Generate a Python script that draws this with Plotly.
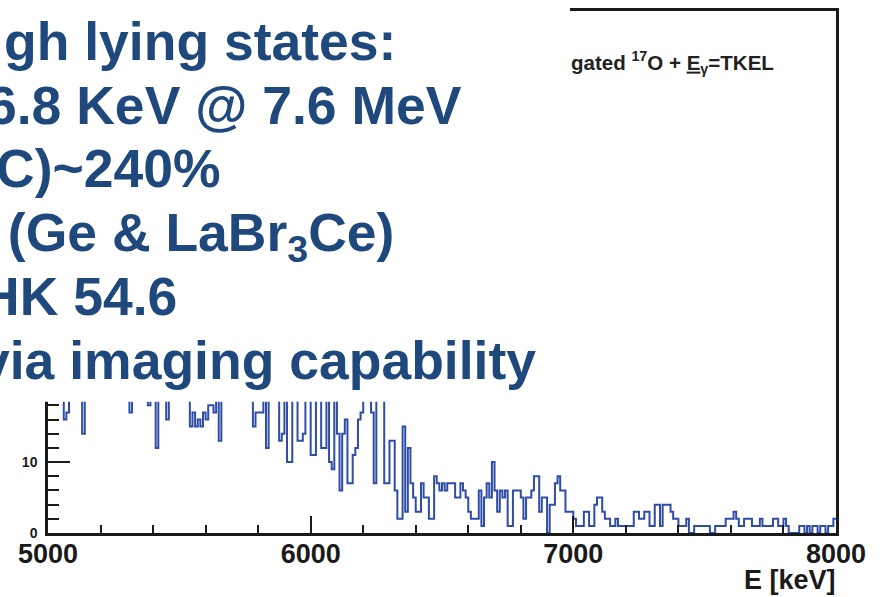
import numpy as np
import plotly.graph_objects as go

# Gamma-ray energy spectrum, 10 keV bins from 5000 to 8000 keV
E_MIN = 5000
E_MAX = 8000
BIN_WIDTH = 10

counts = [
    19, 19, 24, 31, 27, 22, 16, 17, 23, 29,
    34, 27, 21, 14, 25, 30, 36, 28, 33, 26,
    31, 38, 29, 35, 27, 32, 40, 34, 30, 37,
    29, 17, 26, 33, 41, 36, 30, 25, 18, 27,
    33, 12, 28, 35, 22, 16, 24, 31, 27, 36,
    30, 26, 22, 20, 15, 17, 15, 16, 15, 17,
    16, 18, 18, 17, 22, 13, 24, 29, 35, 31,
    38, 33, 27, 36, 30, 25, 21, 19, 15, 17,
    17, 17, 23, 12, 20, 26, 31, 22, 13, 14,
    21, 10, 10, 19, 24, 13, 13, 14, 22, 25,
    11, 11, 21, 19, 12, 12, 20, 10, 9, 24,
    14, 6, 14, 16, 7, 7, 11, 12, 16, 17,
    22, 26, 21, 17, 7, 28, 24, 20, 7, 7,
    13, 13, 6, 2, 2, 15, 3, 12, 7, 5,
    3, 3, 7, 5, 5, 2, 2, 8, 7, 6,
    7, 6, 7, 7, 7, 5, 5, 7, 6, 5,
    3, 2, 2, 2, 6, 1, 5, 7, 5, 10,
    6, 3, 6, 5, 6, 1, 1, 6, 6, 6,
    5, 2, 5, 5, 6, 8, 8, 3, 5, 5,
    0, 4, 4, 7, 8, 6, 6, 3, 3, 3,
    2, 1, 1, 1, 3, 3, 1, 1, 4, 5,
    5, 3, 2, 2, 1, 1, 2, 1, 1, 1,
    1, 1, 1, 3, 3, 2, 2, 3, 3, 1,
    1, 4, 4, 1, 4, 4, 4, 3, 2, 2,
    1, 1, 1, 2, 0, 0, 1, 1, 1, 1,
    1, 1, 0, 0, 1, 1, 1, 1, 2, 2,
    2, 3, 2, 1, 1, 2, 2, 2, 1, 1,
    1, 2, 1, 1, 1, 1, 2, 2, 1, 1,
    2, 1, 0, 0, 0, 0, 1, 1, 0, 1,
    0, 1, 1, 0, 1, 1, 0, 1, 1, 2,
]

Y_MAX = 73.6
x_ticks = [5000, 6000, 7000, 8000]
y_ticks = [0, 10, 20, 30, 40, 50, 60, 70]

hist_title = "gated <sup>17</sup>O + <u>E</u><sub>γ</sub>=TKEL"
x_title = "E [keV]"

slide_lines = [
    "gh lying states:",
    "6.8 KeV @ 7.6 MeV",
    "C)~240%",
    " (Ge &amp; LaBr<sub>3</sub>Ce)",
    "HK 54.6",
    "via imaging capability",
]
# right end (px) and baseline (px) of each slide line
slide_right = [397, 463, 222, 395, 178, 537]
slide_base = [57, 121, 185, 249, 313, 378]

W, H = 887, 597
L, R, T, B = 48, 51, 8, 64
PW, PH = W - L - R, H - T - B


def px(x):
    return (x - L) / PW


def py(y):
    return (H - B - y) / PH


edges = np.arange(E_MIN, E_MAX + BIN_WIDTH, BIN_WIDTH)
step_y = list(counts) + [counts[-1]]

fig = go.Figure()
fig.add_trace(go.Scatter(
    x=edges, y=step_y, mode="lines", line_shape="hv",
    line=dict(color="#2f4da6", width=2), showlegend=False,
    hoverinfo="skip",
))

axis_col = "#1a1a1a"
fig.update_xaxes(
    range=[E_MIN, E_MAX], tickvals=x_ticks, ticks="inside", ticklen=17,
    tickwidth=2, tickcolor=axis_col, showline=True, linewidth=2.5,
    linecolor=axis_col, mirror=True, showgrid=False, zeroline=False,
    ticklabelstandoff=-5,
    tickfont=dict(family="Liberation Sans", size=27, color=axis_col, weight="bold"),
    minor=dict(dtick=200, tick0=E_MIN, ticks="inside", ticklen=8,
               tickwidth=1.5, tickcolor=axis_col, showgrid=False),
)
fig.update_yaxes(
    range=[0, Y_MAX], tickvals=y_ticks, ticks="inside", ticklen=22,
    tickwidth=2, tickcolor=axis_col, showline=True, linewidth=2.5,
    linecolor=axis_col, mirror=True, showgrid=False, zeroline=False,
    ticklabelstandoff=5,
    tickfont=dict(family="Liberation Sans", size=14, color=axis_col, weight="bold"),
    minor=dict(dtick=2, tick0=0, ticks="inside", ticklen=11,
               tickwidth=1.5, tickcolor=axis_col, showgrid=False),
)

# white text panel laid over the upper left of the spectrum
fig.add_shape(type="rect", xref="paper", yref="paper",
              x0=px(-5), x1=px(570), y0=py(401), y1=py(-5),
              fillcolor="white", line=dict(width=0), layer="above")

annotations = []
for text, xr, yb in zip(slide_lines, slide_right, slide_base):
    annotations.append(dict(
        text="<b>" + text + "</b>", xref="paper", yref="paper",
        x=px(xr), y=py(yb - 49), xanchor="right", yanchor="top",
        showarrow=False, borderpad=0,
        font=dict(family="Liberation Sans", size=53.5, color="#1F497D"),
    ))
annotations.append(dict(
    text="<b>" + hist_title + "</b>", xref="paper", yref="paper",
    x=px(570), y=py(60), xanchor="left", yanchor="middle",
    showarrow=False, borderpad=0,
    font=dict(family="Liberation Sans", size=20.5, color="#222222"),
))
annotations.append(dict(
    text="<b>" + x_title + "</b>", xref="paper", yref="paper",
    x=px(837), y=py(580), xanchor="right", yanchor="middle",
    showarrow=False, borderpad=0,
    font=dict(family="Liberation Sans", size=27, color=axis_col),
))

fig.update_layout(
    width=W, height=H, margin=dict(l=L, r=R, t=T, b=B),
    plot_bgcolor="white", paper_bgcolor="white",
    annotations=annotations,
)

fig.write_html("out.html")
